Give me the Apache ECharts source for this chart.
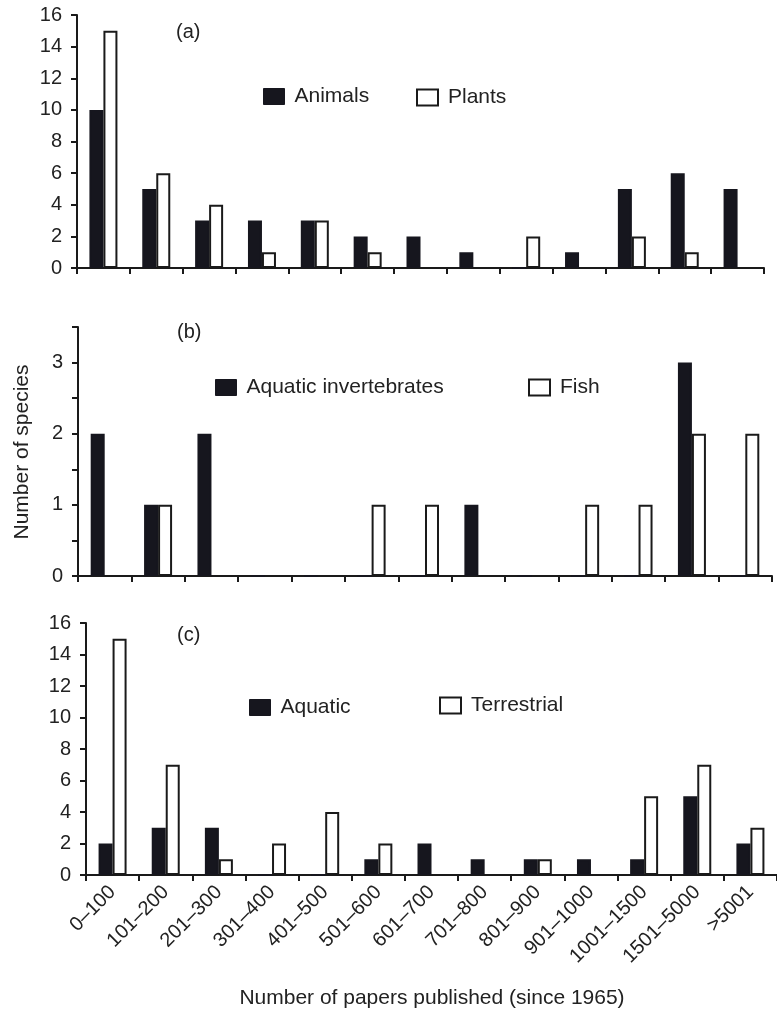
<!DOCTYPE html>
<html>
<head>
<meta charset="utf-8">
<script src="https://cdn.jsdelivr.net/npm/echarts@6/dist/echarts.min.js"></script>
<style>
html,body{margin:0;padding:0;background:#fff;}
#chart{width:777px;height:1010px;}
</style>
</head>
<body>
<div id="chart"></div>
<script>
var categories = ['0–100','101–200','201–300','301–400','401–500','501–600','601–700','701–800','801–900','901–1000','1001–1500','1501–5000','>5001'];
var animals = [10,5,3,3,3,2,2,1,0,1,5,6,5];
var plants = [15,6,4,1,3,1,0,0,2,0,2,1,0];
var aquaticInvertebrates = [2,1,2,0,0,0,0,1,0,0,0,3,0];
var fish = [0,1,0,0,0,1,1,0,0,1,1,2,2];
var aquatic = [2,3,3,0,0,1,2,1,1,1,1,5,2];
var terrestrial = [15,7,1,2,4,2,0,0,1,0,5,7,3];
var panelLabels = ['(a)','(b)','(c)'];
var yTitle = 'Number of species';
var xTitle = 'Number of papers published (since 1965)';

var FONT = '"Liberation Sans", Arial, Helvetica, sans-serif';
var INK = '#1a1a1a';
var DARK = '#16161e';

var chart = echarts.init(document.getElementById('chart'));

function xAxis(i){
  return {
    type:'category', gridIndex:i, data:categories,
    axisLine:{show:true, lineStyle:{color:INK, width:2}},
    axisTick:{show:true, length:6, lineStyle:{color:INK, width:2}},
    axisLabel:{show:i===2, rotate:45, interval:0, fontSize:20, color:'#222', margin:14, fontFamily:FONT},
    splitLine:{show:false}
  };
}
function yAxis(i, max, interval, fmt){
  return {
    type:'value', gridIndex:i, min:0, max:max, interval:interval,
    axisLine:{show:true, lineStyle:{color:INK, width:2}},
    axisTick:{show:true, length:6, lineStyle:{color:INK, width:2}},
    axisLabel:{fontSize:20, color:'#222', margin:15, fontFamily:FONT, formatter:fmt},
    splitLine:{show:false}
  };
}
function darkSeries(name, data, i){
  return {name:name, type:'bar', xAxisIndex:i, yAxisIndex:i, data:data, barWidth:14, barGap:'0%',
    itemStyle:{color:DARK, borderColor:DARK, borderWidth:2}};
}
function lightSeries(name, data, i){
  return {name:name, type:'bar', xAxisIndex:i, yAxisIndex:i, data:data, barWidth:14, barGap:'0%',
    itemStyle:{color:'#fff', borderColor:INK, borderWidth:2}};
}
function legend(name, left, top, dark){
  return {
    data:[name], left:left, top:top, padding:0, icon:'rect', itemWidth:21, itemHeight:16,
    selectedMode:false,
    itemStyle: dark ? {color:DARK, borderColor:DARK, borderWidth:1} : {color:'#fff', borderColor:INK, borderWidth:2},
    textStyle:{fontSize:21, color:'#222', fontFamily:FONT, lineHeight:21, padding:[0,0,0,5]}
  };
}

var option = {
  animation:false,
  backgroundColor:'#fff',
  grid:[
    {left:77, right:13, top:15, height:253},
    {left:78, right:5, top:327, height:249},
    {left:86, right:0, top:623, height:252}
  ],
  xAxis:[xAxis(0), xAxis(1), xAxis(2)],
  yAxis:[
    yAxis(0, 16, 2),
    yAxis(1, 3.5, 0.5, function(v){ return (Math.abs(v - Math.round(v)) < 1e-9) ? String(Math.round(v)) : ''; }),
    yAxis(2, 16, 2)
  ],
  legend:[
    legend('Animals', 263, 86, true),
    legend('Plants', 416, 87, false),
    legend('Aquatic invertebrates', 215, 377, true),
    legend('Fish', 528, 377, false),
    legend('Aquatic', 249, 697, true),
    legend('Terrestrial', 439, 695, false)
  ],
  graphic:[
    {type:'text', left:176, top:22, style:{text:panelLabels[0], font:'20px '+FONT, fill:'#222'}},
    {type:'text', left:177, top:322, style:{text:panelLabels[1], font:'20px '+FONT, fill:'#222'}},
    {type:'text', left:177, top:625, style:{text:panelLabels[2], font:'20px '+FONT, fill:'#222'}},
    {type:'text', x:22, y:452, rotation:Math.PI/2, style:{text:yTitle, font:'21px '+FONT, fill:'#222', align:'center', verticalAlign:'middle'}},
    {type:'text', x:432, y:998, style:{text:xTitle, font:'21px '+FONT, fill:'#222', align:'center', verticalAlign:'middle'}}
  ],
  series:[
    darkSeries('Animals', animals, 0),
    lightSeries('Plants', plants, 0),
    darkSeries('Aquatic invertebrates', aquaticInvertebrates, 1),
    lightSeries('Fish', fish, 1),
    darkSeries('Aquatic', aquatic, 2),
    lightSeries('Terrestrial', terrestrial, 2)
  ]
};
chart.setOption(option);
</script>
</body>
</html>
